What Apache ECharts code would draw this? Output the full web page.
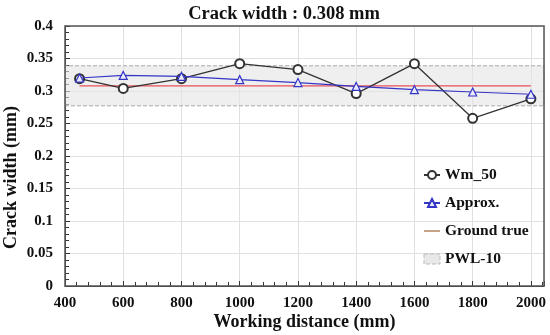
<!DOCTYPE html>
<html><head><meta charset="utf-8">
<script src="https://cdn.jsdelivr.net/npm/echarts@6/dist/echarts.min.js"></script>
<style>html,body{margin:0;padding:0;background:#fff}#c{width:550px;height:335px}</style>
</head><body><div id="c"></div>
<script>
var distances = [450, 600, 800, 1000, 1200, 1400, 1600, 1800, 2000];
var wm50 = [0.319, 0.304, 0.319, 0.342, 0.333, 0.296, 0.342, 0.258, 0.288];
var approx = [0.320, 0.324, 0.3225, 0.3175, 0.313, 0.307, 0.302, 0.2985, 0.295];
var groundTrueX = [450, 2000];
var groundTrue = [0.308, 0.308];
var pwlBand = [0.2772, 0.3388];
var xTicks = [400, 600, 800, 1000, 1200, 1400, 1600, 1800, 2000];

function pairs(xs, ys){ return xs.map(function(x,i){return [x, ys[i]];}); }
var F = '"Liberation Serif","DejaVu Serif",serif';
var chart = echarts.init(document.getElementById('c'));
chart.setOption({
  animation:false,
  title:{text:'Crack width : 0.308 mm', left:279, textAlign:'center', top:0,
    textStyle:{fontFamily:F, fontWeight:'bold', fontSize:18.5, color:'#111'}},
  grid:{left:65, right:6, top:26, bottom:49, containLabel:false, outerBoundsMode:'none'},
  legend:{orient:'vertical', left:418, top:162, itemGap:12, itemWidth:16, itemHeight:10,
    textStyle:{fontFamily:F, fontWeight:'bold', fontSize:15.5, color:'#111'},
    data:[
      {name:'Wm_50'},
      {name:'Approx.'},
      {name:'Ground true', icon:'path://M0,0 h20 v1.4 h-20 z', itemStyle:{color:'#9a5a2a'}},
      {name:'PWL-10', icon:'rect', itemStyle:{color:'#e8e8e8', borderColor:'#bbb', borderType:'dashed', borderWidth:1}}
    ]},
  xAxis:{type:'value', min:400, max:2045, interval:200,
    name:'Working distance (mm)', nameLocation:'middle', nameGap:27, nameMoveOverlap:false,
    nameTextStyle:{fontFamily:F, fontWeight:'bold', fontSize:18, color:'#111'},
    axisLine:{show:true, onZero:false, lineStyle:{color:'#333'}},
    axisTick:{show:true, inside:true, length:5, lineStyle:{color:'#333'}},
    minorTick:{show:true, splitNumber:5, length:4, lineStyle:{color:'#333'}},
    axisLabel:{fontFamily:F, fontWeight:'bold', fontSize:15, color:'#111', margin:10,
      formatter:function(v){return xTicks.indexOf(v)>=0? String(v):'';}},
    splitLine:{show:true, lineStyle:{color:'#e0e0e0'}}},
  yAxis:{type:'value', min:0, max:0.4, interval:0.05,
    name:'Crack width (mm)', nameLocation:'middle', nameGap:45, nameRotate:90, nameMoveOverlap:false,
    nameTextStyle:{fontFamily:F, fontWeight:'bold', fontSize:18, color:'#111', padding:[0,43,0,0]},
    axisLine:{show:true, lineStyle:{color:'#333'}},
    axisTick:{show:true, inside:true, length:5, lineStyle:{color:'#333'}},
    minorTick:{show:true, splitNumber:5, length:4, lineStyle:{color:'#333'}},
    axisLabel:{fontFamily:F, fontWeight:'bold', fontSize:15, color:'#111', margin:12,
      formatter:function(v){return String(Math.round(v*100)/100);}},
    splitLine:{show:true, lineStyle:{color:'#e0e0e0'}}},
  series:[
    {name:'PWL-10', type:'line', data:[], color:'#e8e8e8',
      markArea:{silent:true, itemStyle:{color:'rgba(228,228,228,0.6)', borderColor:'#aaa', borderType:'dashed', borderWidth:1},
        data:[[{xAxis:400, yAxis:pwlBand[0]},{xAxis:2045, yAxis:pwlBand[1]}]]}},
    {name:'Ground true', type:'line', data:pairs(groundTrueX, groundTrue), showSymbol:false, symbol:'none',
      color:'#e8505a', lineStyle:{color:'#e8505a', width:1.3}, z:3},
    {name:'Wm_50', type:'line', data:pairs(distances, wm50), symbol:'emptyCircle', symbolSize:9,
      color:'#333', lineStyle:{color:'#333', width:1.3}, itemStyle:{color:'#333', borderWidth:1.2}, z:4},
    {name:'Approx.', type:'line', data:pairs(distances, approx), symbol:'triangle', symbolSize:8,
      color:'#3535c8', lineStyle:{color:'#3535c8', width:1.2}, itemStyle:{color:'#ececf8', borderColor:'#3535c8', borderWidth:1.2}, z:5}
  ],
  graphic:[{type:'rect', shape:{x:65, y:26, width:479, height:260}, style:{fill:'none', stroke:'#555', lineWidth:1.5}, z:100, silent:true}]
});
</script></body></html>
